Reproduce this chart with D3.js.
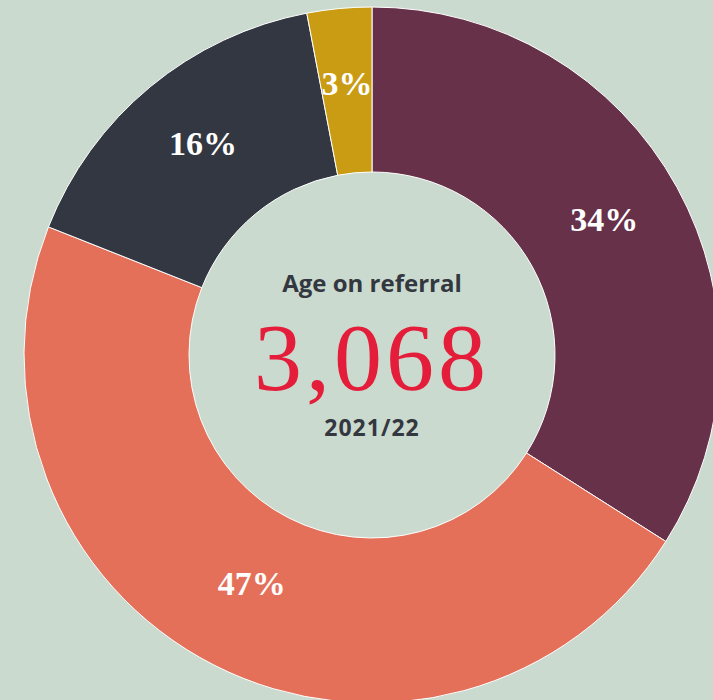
<!DOCTYPE html>
<html>
<head>
<meta charset="utf-8">
<script src="https://cdn.jsdelivr.net/npm/d3@7"></script>
<style>
  html, body { margin: 0; padding: 0; background: #cbdace; }
  svg { display: block; }
</style>
</head>
<body>
<svg id="chart"></svg>
<script>
const categories = ['34%', '47%', '16%', '3%'];
const shares = [34, 47, 16, 3];
const colours = ['#663149', '#e5705a', '#333741', '#c99c14'];
const title = 'Age on referral';
const total = '3,068';
const period = '2021/22';

const WIDTH = 713, HEIGHT = 700;
const cx = 372, cy = 355;
const outer = 348, inner = 183;

const svg = d3.select('#chart')
  .attr('width', WIDTH)
  .attr('height', HEIGHT);

svg.append('rect')
  .attr('width', WIDTH)
  .attr('height', HEIGHT)
  .attr('fill', '#cbdace');

const g = svg.append('g')
  .attr('transform', `translate(${cx},${cy})`);

const pie = d3.pie().sort(null).value(d => d)(shares);
const arc = d3.arc().innerRadius(inner).outerRadius(outer);
const labelArc = d3.arc().innerRadius(265).outerRadius(265);

g.selectAll('path.slice')
  .data(pie)
  .join('path')
  .attr('class', 'slice')
  .attr('d', arc)
  .attr('fill', (d, i) => colours[i])
  .attr('stroke', '#ffffff')
  .attr('stroke-width', 1);

// percentage labels
g.selectAll('text.pct')
  .data(pie)
  .join('text')
  .attr('class', 'pct')
  .attr('transform', d => `translate(${labelArc.centroid(d)})`)
  .attr('text-anchor', 'middle')
  .attr('dy', '0.12em')
  .style('font-family', '"Liberation Serif", "DejaVu Serif", serif')
  .style('font-weight', 'bold')
  .style('font-size', '34px')
  .style('fill', '#ffffff')
  .text((d, i) => categories[i]);

// centre text
g.append('text')
  .attr('x', 0)
  .attr('y', -63)
  .attr('text-anchor', 'middle')
  .style('font-family', '"Open Sans", Lato, sans-serif')
  .style('font-weight', 'bold')
  .style('font-size', '24px')
  .style('fill', '#333740')
  .text(title);

g.append('text')
  .attr('x', 0)
  .attr('y', 35)
  .attr('text-anchor', 'middle')
  .style('font-family', '"Liberation Serif", "DejaVu Serif", serif')
  .style('font-size', '96px')
  .style('letter-spacing', '4px')
  .style('fill', '#e41e3a')
  .text(total);

g.append('text')
  .attr('x', 0)
  .attr('y', 81)
  .attr('text-anchor', 'middle')
  .style('font-family', '"Open Sans", Lato, sans-serif')
  .style('font-weight', 'bold')
  .style('font-size', '23px')
  .style('letter-spacing', '1px')
  .style('fill', '#333740')
  .text(period);
</script>
</body>
</html>
